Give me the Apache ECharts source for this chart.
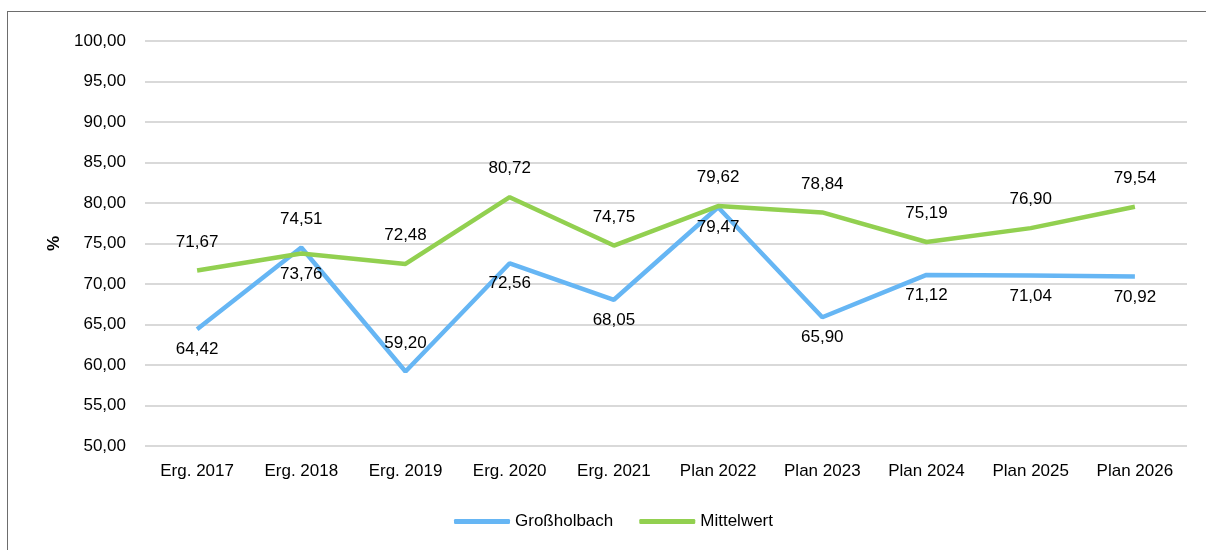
<!DOCTYPE html>
<html>
<head>
<meta charset="utf-8">
<script src="https://cdn.jsdelivr.net/npm/echarts@6/dist/echarts.min.js"></script>
<style>
html,body{margin:0;padding:0;background:#fff;}
#frame{position:absolute;left:7px;top:11px;width:1210px;height:560px;border:1px solid #6d6d6d;box-sizing:border-box;}
#chart{position:absolute;left:0;top:0;width:1206px;height:550px;}
</style>
</head>
<body>
<div id="frame"></div>
<div id="chart"></div>
<script>
var categories = ['Erg. 2017','Erg. 2018','Erg. 2019','Erg. 2020','Erg. 2021','Plan 2022','Plan 2023','Plan 2024','Plan 2025','Plan 2026'];
var grossholbach = [64.42, 74.51, 59.20, 72.56, 68.05, 79.47, 65.90, 71.12, 71.04, 70.92];
var mittelwert = [71.67, 73.76, 72.48, 80.72, 74.75, 79.62, 78.84, 75.19, 76.90, 79.54];
// Label unter/über dem Punkt wie im Original
var posG = ['bottom','top','top','bottom','bottom','bottom','bottom','bottom','bottom','bottom'];
var posM = ['top','bottom','top','top','top','top','top','top','top','top'];

function fmt(v){ return v.toFixed(2).replace('.', ','); }

function withLabels(values, pos){
    return values.map(function(v, i){
        return {
            value: v,
            label: { show: true, position: pos[i], distance: pos[i] === 'top' ? 20 : 12 }
        };
    });
}

var myCharts = echarts.init(document.getElementById('chart'));
var font = 'Liberation Sans, Arial, sans-serif';
var option = {
    animation: false,
    textStyle: { fontFamily: font },
    grid: { left: 145, right: 19, top: 41, bottom: 104 },
    legend: {
        bottom: 15,
        left: 449,
        itemWidth: 56,
        itemHeight: 5,
        itemGap: 26,
        icon: 'roundRect',
        textStyle: { fontSize: 17, color: '#000', fontFamily: font },
        data: ['Großholbach', 'Mittelwert']
    },
    xAxis: {
        type: 'category',
        data: categories,
        axisLine: { show: false },
        axisTick: { show: false },
        axisLabel: { fontSize: 17, color: '#000', margin: 17, fontFamily: font }
    },
    yAxis: {
        type: 'value',
        min: 50,
        max: 100,
        interval: 5,
        name: '%',
        nameLocation: 'middle',
        nameGap: 82,
        nameRotate: 90,
        nameTextStyle: { fontSize: 17, color: '#000', fontWeight: 'bold', fontFamily: font },
        axisLabel: { fontSize: 17, color: '#000', margin: 19, fontFamily: font, formatter: fmt },
        splitLine: { lineStyle: { color: '#d9d9d9', width: 2 } }
    },
    series: [
        {
            name: 'Großholbach',
            type: 'line',
            data: withLabels(grossholbach, posG),
            symbol: 'circle',
            symbolSize: 0,
            showSymbol: true,
            lineStyle: { color: '#66b6f4', width: 4.5 },
            itemStyle: { color: '#66b6f4' },
            label: { show: true, fontSize: 17, color: '#000', fontFamily: font, formatter: function(p){ return fmt(p.value); } }
        },
        {
            name: 'Mittelwert',
            type: 'line',
            data: withLabels(mittelwert, posM),
            symbol: 'circle',
            symbolSize: 0,
            showSymbol: true,
            lineStyle: { color: '#92d050', width: 4.5 },
            itemStyle: { color: '#92d050' },
            label: { show: true, fontSize: 17, color: '#000', fontFamily: font, formatter: function(p){ return fmt(p.value); } }
        }
    ]
};
myCharts.setOption(option);
</script>
</body>
</html>
